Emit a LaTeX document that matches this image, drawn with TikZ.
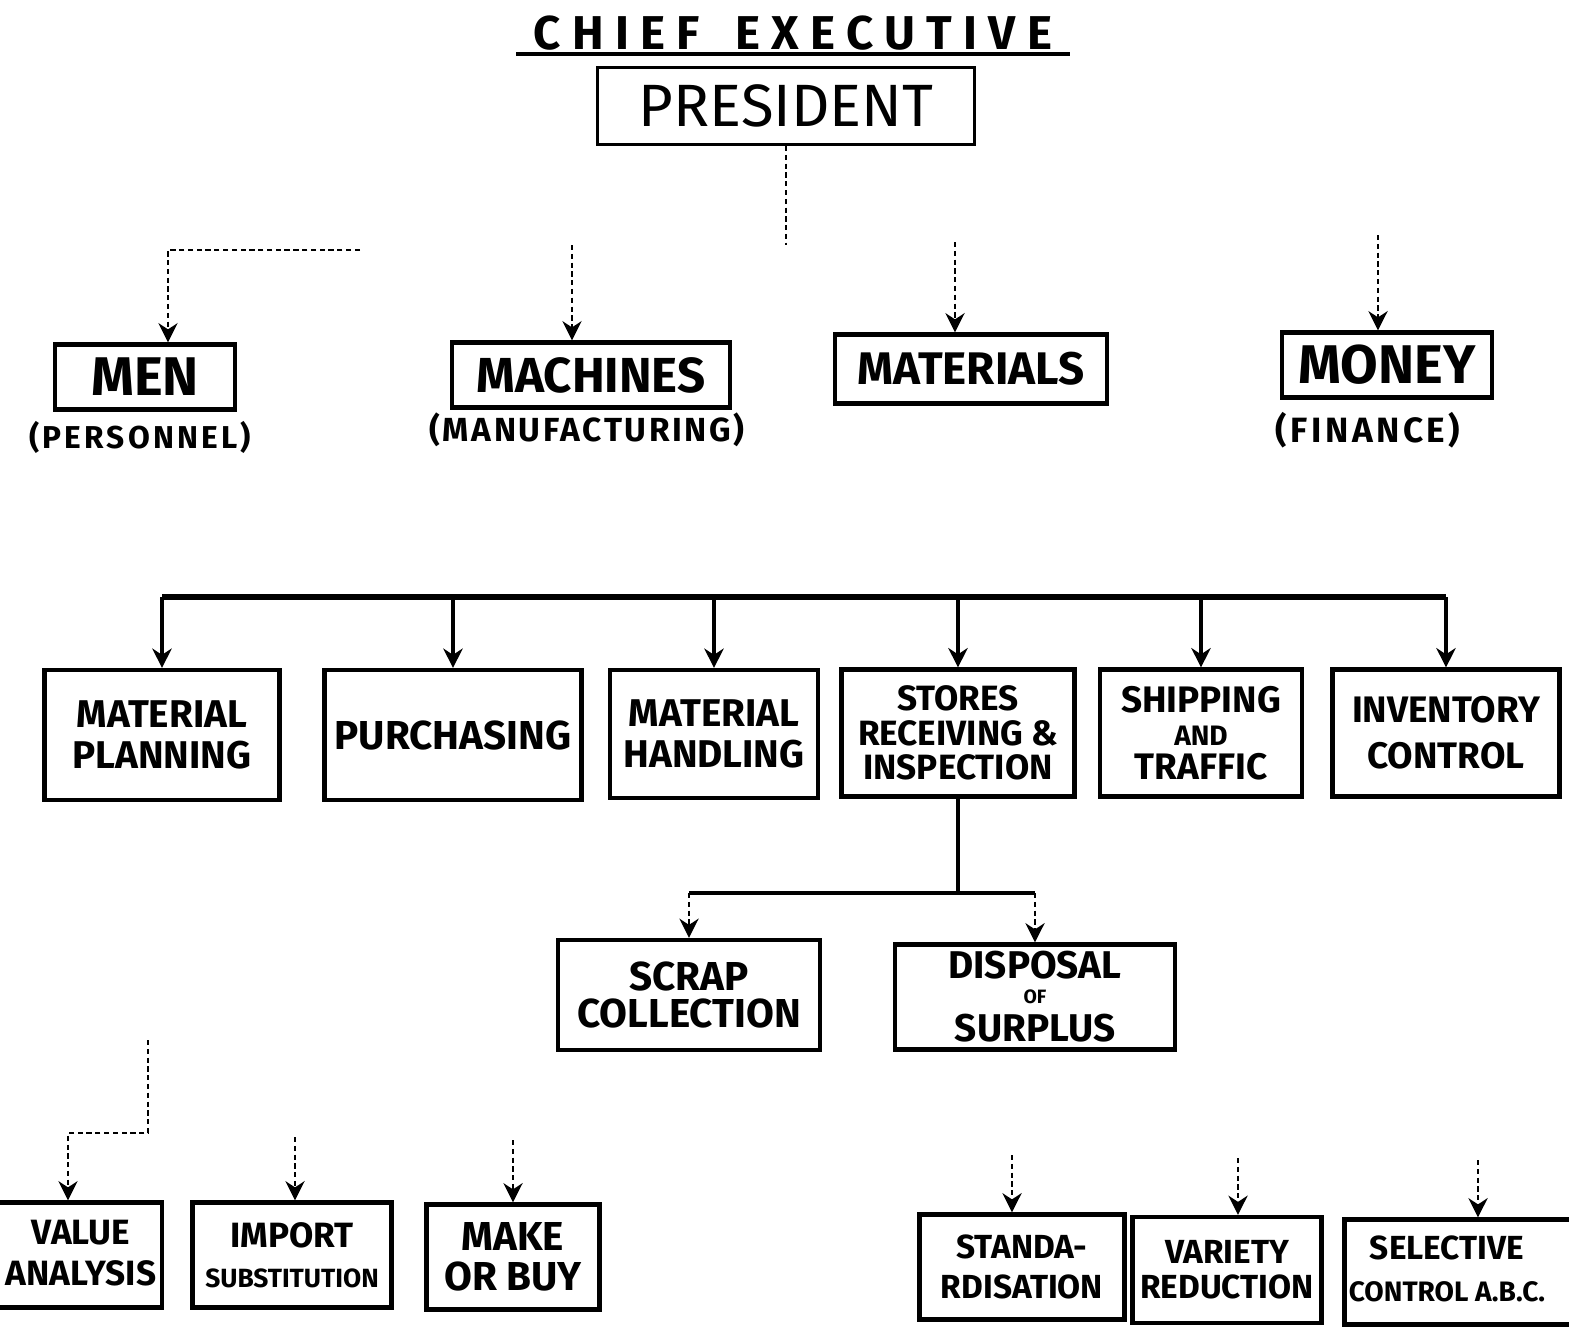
\documentclass[tikz,border=0pt]{standalone}
\usepackage{fontspec}
\setmainfont{Fira Sans}
\usetikzlibrary{arrows.meta,positioning}

\newcommand{\lettering}[2]{\fontsize{#1}{#2}\selectfont\bfseries}

\begin{document}
\begin{tikzpicture}[x=0.02cm, y=-0.02cm,
    box/.style={draw, line width=2.4pt, align=center, inner sep=0pt},
    faint/.style={line width=0.9pt, densely dashed},
    link/.style={line width=1.8pt},
    bus/.style={line width=3.4pt},
    tip/.style={-{Stealth[length=11pt, width=11pt]}},
    drop/.style={line width=2.4pt, tip},
    word/.style={align=center, inner sep=0pt}
]
\useasboundingbox (0,0) rectangle (1569,1330);
\clip (0,0) rectangle (1569,1330);

% head of the chart
\node[word, font=\lettering{27}{30}\addfontfeature{LetterSpace=24}, minimum width=11.06cm, inner ysep=2pt] (chief) at (793,33) {CHIEF\hspace{20pt}EXECUTIVE};
\draw[line width=2.6pt] (chief.south west) -- (chief.south east);
\node[box, line width=1.8pt, minimum width=7.54cm, minimum height=1.54cm,
      font=\fontsize{34}{40}\selectfont] (pres) at (786,106) {PRESIDENT};

% the four M's
\node[box, minimum width=3.6cm, minimum height=1.3cm, font=\lettering{31}{34}] (men) at (145,377) {MEN};
\node[box, minimum width=5.56cm, minimum height=1.3cm, font=\lettering{28}{32}] (mach) at (591,375) {MACHINES};
\node[box, minimum width=5.44cm, minimum height=1.38cm, font=\lettering{26}{30}] (mat) at (971,369) {MATERIALS};
\node[box, minimum width=4.2cm, minimum height=1.3cm, font=\lettering{31}{34}] (money) at (1387,365) {MONEY};

\node[word, font=\lettering{18}{20}\addfontfeature{LetterSpace=10}] (pers) at (140,437) {(PERSONNEL)};
\node[word, font=\lettering{19}{21}\addfontfeature{LetterSpace=8}] (manu) at (587,430) {(MANUFACTURING)};
\node[word, font=\lettering{20}{22}\addfontfeature{LetterSpace=10}] (fin) at (1368,430) {(FINANCE)};

\coordinate (ptop) at (786,245);
\draw[faint] (pres.south) -- (ptop);

\coordinate (menL) at (360,250);
\coordinate (menA) at (168,250);
\draw[faint, tip] (menL) -- (menA) -- (menA |- men.north);
\coordinate (machA) at (572,245);
\draw[faint, tip] (machA) -- (machA |- mach.north);
\coordinate (matA) at (955,242);
\draw[faint, tip] (matA) -- (matA |- mat.north);
\coordinate (moneyA) at (1378,235);
\draw[faint, tip] (moneyA) -- (moneyA |- money.north);

% materials department
\node[box, minimum width=4.7cm, minimum height=2.6cm, font=\lettering{22}{23}] (mplan) at (162,735) {MATERIAL\\PLANNING};
\node[box, minimum width=5.14cm, minimum height=2.6cm, font=\lettering{23}{26}] (purch) at (453,735) {PURCHASING};
\node[box, minimum width=4.16cm, minimum height=2.56cm, font=\lettering{22}{23}] (mhand) at (714,734) {MATERIAL\\HANDLING};
\node[box, minimum width=4.66cm, minimum height=2.54cm, font=\lettering{20}{19.5}] (stores) at (958,733) {STORES\\RECEIVING \&\\INSPECTION};
\node[box, minimum width=4.04cm, minimum height=2.54cm, font=\lettering{21}{19}] (ship) at (1201,733) {SHIPPING\\{\fontsize{16}{16}\selectfont AND}\\TRAFFIC};
\node[box, minimum width=4.54cm, minimum height=2.54cm, font=\lettering{21}{26}] (inv) at (1446,733) {INVENTORY\\CONTROL};

\coordinate (bus) at (0,597);
\draw[bus] (mplan.north |- bus) -- (inv.north |- bus);
\foreach \n in {mplan,purch,mhand,stores,ship,inv}
    \draw[drop] (\n.north |- bus) -- (\n.north);

% under stores
\node[box, minimum width=5.24cm, minimum height=2.2cm, font=\lettering{23}{21}] (scrap) at (689,995) {SCRAP\\COLLECTION};
\node[box, minimum width=5.6cm, minimum height=2.1cm, font=\lettering{22}{15}] (disp) at (1035,997) {DISPOSAL\\[-1pt]{\fontsize{11}{11}\selectfont OF}\\[5pt]SURPLUS};

\coordinate (split) at (947,893);
\draw[link] (stores.south) -- (stores.south |- split);
\draw[link] (scrap.north |- split) -- (disp.north |- split);
\draw[faint, tip] (scrap.north |- split) -- (scrap.north);
\draw[faint, tip] (disp.north |- split) -- (disp.north);

% techniques, left
\node[box, minimum width=4.44cm, minimum height=2.1cm] (value) at (51,1255) {};
\node[word, font=\lettering{20}{23}] (valueT) at (81,1253) {VALUE\\ANALYSIS};
\node[box, minimum width=3.98cm, minimum height=2.1cm, font=\lettering{20}{23}] (import) at (292,1255) {IMPORT\\{\fontsize{15}{15}\selectfont SUBSTITUTION}};
\node[box, minimum width=3.46cm, minimum height=2.1cm, font=\lettering{23}{23}] (make) at (513,1257) {MAKE\\OR BUY};

\coordinate (valA) at (148,1040);
\coordinate (valB) at (148,1133);
\coordinate (valC) at (68,1133);
\draw[faint, tip] (valA) -- (valB) -- (valC) -- (valC |- value.north);
\coordinate (importA) at (295,1137);
\draw[faint, tip] (importA) -- (importA |- import.north);
\coordinate (makeA) at (513,1140);
\draw[faint, tip] (makeA) -- (makeA |- make.north);

% techniques, right
\node[box, minimum width=4.1cm, minimum height=2.1cm, font=\lettering{19}{23}] (stand) at (1022,1267) {STANDA-\\RDISATION};
\node[box, minimum width=3.78cm, minimum height=2.12cm, font=\lettering{19}{20}] (variety) at (1227,1270) {VARIETY\\REDUCTION};
\node[box, minimum width=5.1cm, minimum height=2.1cm] (select) at (1472,1272) {};
\node[word, font=\lettering{19}{24}] (selectT) at (1447,1269) {SELECTIVE\\{\fontsize{16}{16}\selectfont CONTROL A.B.C.}};

\coordinate (standA) at (1012,1155);
\draw[faint, tip] (standA) -- (standA |- stand.north);
\coordinate (varietyA) at (1238,1158);
\draw[faint, tip] (varietyA) -- (varietyA |- variety.north);
\coordinate (selectA) at (1478,1160);
\draw[faint, tip] (selectA) -- (selectA |- select.north);
\end{tikzpicture}
\end{document}
